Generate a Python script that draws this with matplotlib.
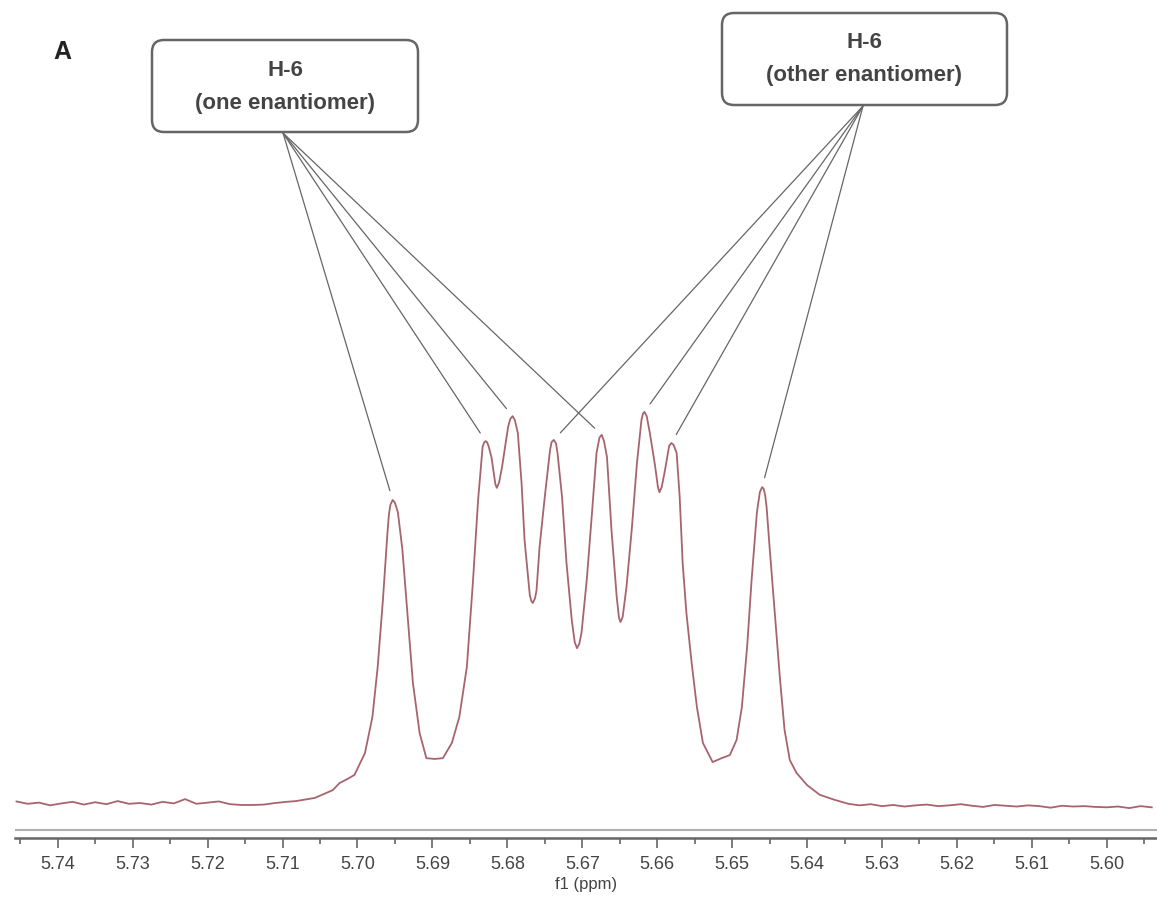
import matplotlib
matplotlib.use("Agg")
import matplotlib.pyplot as plt
from matplotlib.patches import FancyBboxPatch
from matplotlib.ticker import MultipleLocator, FormatStrFormatter

plt.rcParams['font.family'] = ['Liberation Sans', 'DejaVu Sans']

# --- spectrum (ppm, relative intensity) ---
base_left_ppm = [5.7455, 5.7440, 5.7425, 5.7410, 5.7395, 5.7380, 5.7365, 5.7350,
                 5.7335, 5.7320, 5.7305, 5.7290, 5.7275, 5.7260, 5.7245, 5.7230,
                 5.7215, 5.7200, 5.7185, 5.7170, 5.7155, 5.7140, 5.7125, 5.7110, 5.7095]
base_left_int = [0.004, -0.002, 0.001, -0.006, -0.001, 0.003, -0.004, 0.002,
                 -0.003, 0.005, -0.002, 0.000, -0.004, 0.003, -0.001, 0.010,
                 -0.002, 0.001, 0.004, -0.003, -0.005, -0.005, -0.004, 0.000, 0.003]

multiplet_ppm = [5.7082, 5.7057, 5.7033, 5.7024, 5.7013, 5.7004, 5.6990, 5.6980,
                 5.6973, 5.6966, 5.6960, 5.6958, 5.6956, 5.6953, 5.6950, 5.6946,
                 5.6940, 5.6933, 5.6926, 5.6917, 5.6908, 5.6897, 5.6886, 5.6874,
                 5.6864, 5.6854, 5.6846, 5.6839, 5.6833, 5.6831, 5.6829, 5.6827,
                 5.6825, 5.6821, 5.6816, 5.6814, 5.6811, 5.6807, 5.6799, 5.6796,
                 5.6793, 5.6790, 5.6786, 5.6781, 5.6777, 5.6770, 5.6768, 5.6766,
                 5.6763, 5.6761, 5.6757, 5.6750, 5.6743, 5.6741, 5.6738, 5.6735,
                 5.6733, 5.6727, 5.6721, 5.6714, 5.6710, 5.6707, 5.6704, 5.6701,
                 5.6694, 5.6687, 5.6681, 5.6677, 5.6674, 5.6671, 5.6667, 5.6661,
                 5.6654, 5.6651, 5.6649, 5.6646, 5.6641, 5.6634, 5.6627, 5.6621,
                 5.6619, 5.6617, 5.6614, 5.6610, 5.6603, 5.6599, 5.6597, 5.6594,
                 5.6590, 5.6584, 5.6581, 5.6578, 5.6574, 5.6570, 5.6566, 5.6561,
                 5.6554, 5.6547, 5.6539, 5.6526, 5.6514, 5.6503, 5.6494, 5.6487,
                 5.6480, 5.6474, 5.6467, 5.6463, 5.6460, 5.6458, 5.6456, 5.6454,
                 5.6450, 5.6443, 5.6436, 5.6430, 5.6423, 5.6414, 5.6400, 5.6383, 5.6363]
multiplet_int = [0.005, 0.013, 0.033, 0.051, 0.062, 0.072, 0.128, 0.221,
                 0.349, 0.521, 0.692, 0.740, 0.765, 0.777, 0.770, 0.745,
                 0.649, 0.477, 0.308, 0.179, 0.115, 0.113, 0.115, 0.154,
                 0.221, 0.349, 0.564, 0.777, 0.913, 0.924, 0.928, 0.925,
                 0.915, 0.885, 0.818, 0.808, 0.822, 0.862, 0.964, 0.985,
                 0.992, 0.982, 0.949, 0.821, 0.674, 0.533, 0.518, 0.513,
                 0.525, 0.546, 0.656, 0.785, 0.905, 0.925, 0.931, 0.922,
                 0.897, 0.785, 0.615, 0.469, 0.412, 0.397, 0.408, 0.436,
                 0.572, 0.744, 0.897, 0.937, 0.944, 0.928, 0.887, 0.700,
                 0.528, 0.475, 0.464, 0.478, 0.554, 0.700, 0.872, 0.982,
                 0.998, 1.003, 0.992, 0.951, 0.867, 0.810, 0.797, 0.810,
                 0.849, 0.916, 0.923, 0.918, 0.897, 0.785, 0.615, 0.487,
                 0.359, 0.246, 0.154, 0.105, 0.115, 0.123, 0.162, 0.246,
                 0.400, 0.572, 0.744, 0.797, 0.810, 0.806, 0.790, 0.759,
                 0.656, 0.487, 0.315, 0.187, 0.110, 0.077, 0.046, 0.021, 0.008]

base_right_ppm = [5.6345, 5.6330, 5.6315, 5.6300, 5.6285, 5.6270, 5.6255, 5.6240,
                  5.6225, 5.6210, 5.6195, 5.6180, 5.6165, 5.6150, 5.6135, 5.6120,
                  5.6105, 5.6090, 5.6075, 5.6060, 5.6045, 5.6030, 5.6015, 5.6000,
                  5.5985, 5.5970, 5.5955, 5.5940]
base_right_int = [-0.002, -0.006, -0.003, -0.008, -0.005, -0.009, -0.006, -0.004,
                  -0.008, -0.006, -0.003, -0.007, -0.010, -0.005, -0.007, -0.009,
                  -0.006, -0.008, -0.012, -0.007, -0.009, -0.008, -0.010, -0.011,
                  -0.009, -0.013, -0.008, -0.011]

# peak tops assigned to each enantiomer
one_peaks_ppm = [5.6953, 5.6829, 5.6793, 5.6674]
one_peaks_int = [0.777, 0.928, 0.992, 0.944]
other_peaks_ppm = [5.6738, 5.6617, 5.6581, 5.6460]
other_peaks_int = [0.931, 1.003, 0.923, 0.810]

ppm = base_left_ppm + multiplet_ppm + base_right_ppm
intensity = base_left_int + multiplet_int + base_right_int

W, H = 1157, 900
fig = plt.figure(figsize=(W / 100, H / 100), dpi=100)
ax = fig.add_axes([15 / W, 62 / H, 1 - 15 / W, 1 - 62 / H])

ax.plot(ppm, intensity, color='#a8646e', lw=1.3)
ax.axhline(-0.069, color='#b0b0b0', lw=1.5)

ax.set_xlim(5.7457, 5.5933)
ax.set_ylim(-0.0897, 2.059)
for s in ['left', 'right', 'top']:
    ax.spines[s].set_visible(False)
ax.spines['bottom'].set_color('#666666')
ax.spines['bottom'].set_linewidth(1.8)
ax.set_yticks([])
ax.xaxis.set_major_locator(MultipleLocator(0.01))
ax.xaxis.set_minor_locator(MultipleLocator(0.005))
ax.xaxis.set_major_formatter(FormatStrFormatter('%.2f'))
ax.tick_params(axis='x', which='major', direction='out', length=7, width=1.2,
               color='#666666', labelsize=13, labelcolor='#444444', pad=6)
ax.tick_params(axis='x', which='minor', direction='out', length=4, width=1.2,
               color='#666666')
ax.set_xlabel('f1 (ppm)', fontsize=12, color='#444444', labelpad=3)

# overlay in pixel-like coordinates for the labels and boxes
ov = fig.add_axes([0, 0, 1, 1])
ov.set_xlim(0, W)
ov.set_ylim(H, 0)
ov.axis('off')
ov.patch.set_alpha(0)

ov.text(62, 52, 'A', fontsize=18, fontweight='bold', ha='center', va='center', color='#222222')

boxes = [
    (152, 40, 266, 92, 'one enantiomer', (283, 133), one_peaks_ppm, one_peaks_int),
    (722, 13, 285, 92, 'other enantiomer', (863, 106), other_peaks_ppm, other_peaks_int),
]
for bx, by, bw, bh, label, anchor, pk_x, pk_y in boxes:
    ov.add_patch(FancyBboxPatch((bx, by), bw, bh,
                                boxstyle='round,pad=0,rounding_size=12',
                                fc='white', ec='#666666', lw=1.8))
    cx = bx + bw / 2
    ov.text(cx, by + 30, 'H-6', fontsize=16, fontweight='bold', ha='center',
            va='center', color='#444444')
    ov.text(cx, by + 63, '(' + label + ')', fontsize=16, fontweight='bold',
            ha='center', va='center', color='#444444')
    for px, py in zip(pk_x, pk_y):
        ov.annotate('', xy=(px, py), xycoords=ax.transData,
                    xytext=anchor, textcoords='data', annotation_clip=False,
                    arrowprops=dict(arrowstyle='-', color='#666666', lw=0.9,
                                    shrinkA=0, shrinkB=7))

fig.savefig('out.png', dpi=100)
